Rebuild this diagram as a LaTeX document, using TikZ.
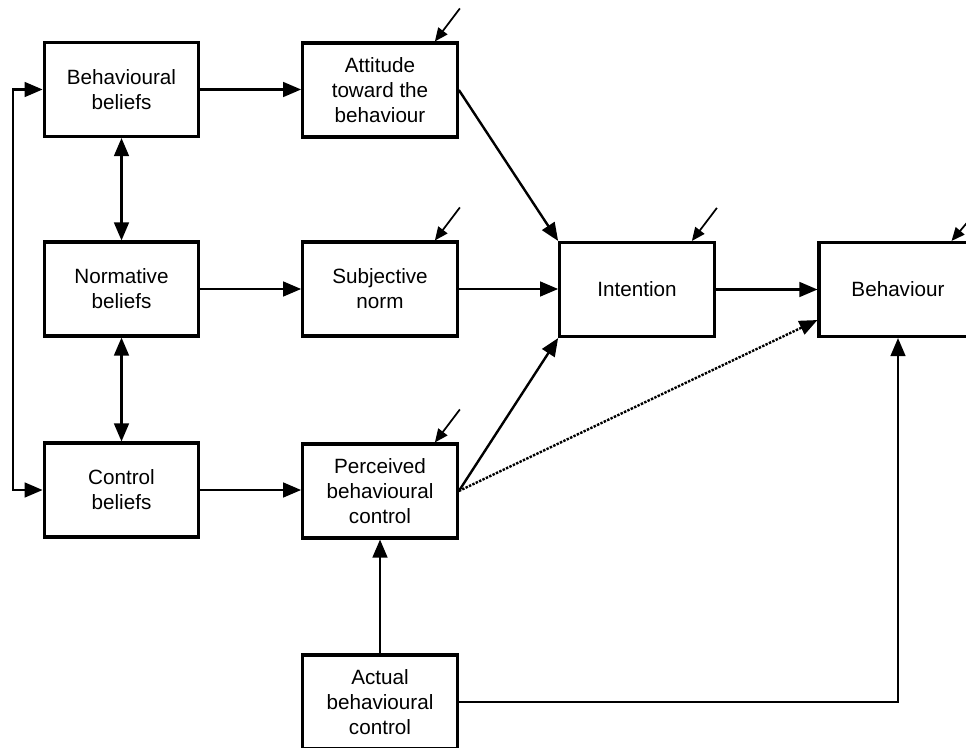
\documentclass[tikz,border=0pt]{standalone}
\usepackage{fontspec}
\setmainfont{Liberation Sans}
\usepackage{tikz}
\usetikzlibrary{arrows.meta}

\tikzset{
  box/.style={draw, line width=2.3pt, minimum width=116pt, minimum height=70.5pt, align=center, inner sep=2pt, font=\fontsize{15.5}{18.75}\selectfont},
  link/.style={line width=1.8pt, -{Triangle[length=13.5pt,width=11pt]}},
  duallink/.style={line width=1.8pt, {Triangle[length=13.5pt,width=11pt]}-{Triangle[length=13.5pt,width=11pt]}},
  errarrow/.style={line width=1.3pt, -{Triangle[length=10pt,width=8.5pt]}},
}

\begin{document}
\begin{tikzpicture}[x=0.75pt,y=0.75pt,yscale=-1,xscale=1]
\useasboundingbox (0,0) rectangle (966,748);
\node[box] (bb) at (121.5,89.5) {Behavioural\\beliefs};
\node[box] (att) at (380,90) {Attitude\\toward the\\behaviour};
\node[box] (nb) at (121.5,289) {Normative\\beliefs};
\node[box] (sn) at (380,289) {Subjective\\norm};
\node[box] (int) at (637,289.5) {Intention};
\node[box, minimum width=118.5pt] (beh) at (898,289.5) {Behaviour};
\node[box] (cb) at (121.5,490) {Control\\beliefs};
\node[box] (pbc) at (380,491) {Perceived\\behavioural\\control};
\node[box] (abc) at (380,702) {Actual\\behavioural\\control};
\coordinate (fb) at (13,0);
% beliefs
\draw[link] (bb.east) -- (bb.east -| att.west);
\draw[link] (nb) -- (sn);
\draw[link] (cb) -- (cb -| pbc.west);
\draw[duallink] (bb) -- (nb);
\draw[duallink] (nb) -- (cb);
\draw[duallink] (bb.west) -- (bb.west -| fb) -- (cb.west -| fb) -- (cb.west);
% intention and behaviour
\draw[link] (att.east) -- (int.north west);
\draw[link] (sn) -- (sn -| int.west);
\draw[link] (pbc.east) -- (int.south west);
\draw[link, densely dotted] (pbc.east) -- ([shift={(0,-18)}]beh.south west);
\draw[link] (int) -- (beh);
\draw[link] (abc) -- (pbc);
\draw[link] (abc.east) -| (beh.south);
% error terms
\draw[errarrow] ([shift={(1,-33)}]att.north east) -- ([shift={(-24,0)}]att.north east);
\draw[errarrow] ([shift={(1,-33)}]sn.north east) -- ([shift={(-24,0)}]sn.north east);
\draw[errarrow] ([shift={(1,-33)}]int.north east) -- ([shift={(-24,0)}]int.north east);
\draw[errarrow] ([shift={(1,-33)}]beh.north east) -- ([shift={(-27,0)}]beh.north east);
\draw[errarrow] ([shift={(1,-33)}]pbc.north east) -- ([shift={(-24,0)}]pbc.north east);
\end{tikzpicture}
\end{document}
